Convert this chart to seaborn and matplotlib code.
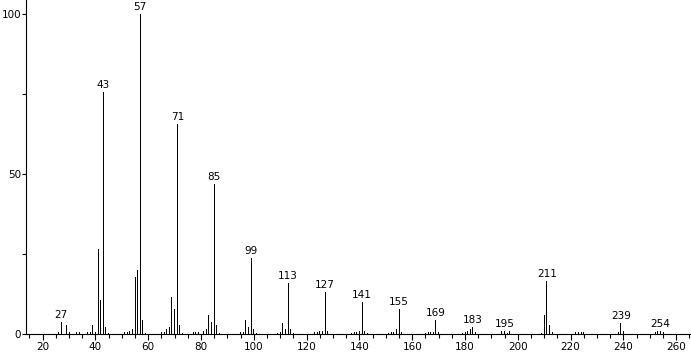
import matplotlib
matplotlib.use("Agg")
import matplotlib.pyplot as plt
from matplotlib.ticker import MultipleLocator
import seaborn as sns
import pandas as pd

mz = [26, 27, 29, 30, 33, 34, 37, 38, 39, 40, 41, 42, 43, 44, 45,
      51, 52, 53, 54, 55, 56, 57, 58, 59,
      65, 66, 67, 68, 69, 70, 71, 72, 73,
      77, 78, 79, 81, 82, 83, 84, 85, 86, 87,
      95, 96, 97, 98, 99, 100, 101,
      109, 110, 111, 112, 113, 114, 115,
      123, 124, 125, 126, 127, 128,
      137, 138, 139, 140, 141, 142, 143,
      151, 152, 153, 154, 155, 156,
      165, 166, 167, 168, 169, 170,
      179, 180, 181, 182, 183, 184,
      194, 195, 196, 197,
      209, 210, 211, 212, 213,
      222, 223, 224, 225,
      238, 239, 240,
      252, 253, 254, 255]
intensity = [0.6, 3.8, 2.9, 0.5, 0.5, 0.5, 0.6, 0.6, 2.9, 0.6, 26.5, 10.7, 75.5, 2.3, 0.4,
             0.5, 0.6, 1.0, 1.7, 17.9, 20.0, 100.0, 4.5, 0.4,
             0.5, 0.5, 1.7, 2.3, 11.7, 7.9, 65.5, 2.9, 0.4,
             0.5, 0.5, 0.5, 0.8, 1.7, 6.0, 3.9, 47.0, 2.9, 0.4,
             0.6, 0.6, 4.5, 2.3, 23.6, 1.7, 0.4,
             0.4, 0.5, 3.5, 1.7, 15.8, 1.7, 0.4,
             0.5, 0.5, 0.8, 0.9, 13.1, 0.9,
             0.4, 0.5, 0.6, 0.8, 10.0, 0.8, 0.4,
             0.4, 0.5, 0.7, 1.5, 7.7, 0.6,
             0.4, 0.5, 0.6, 0.7, 4.4, 0.5,
             0.4, 0.5, 0.9, 1.7, 2.3, 0.5,
             0.8, 1.0, 0.4, 1.0,
             0.4, 6.0, 16.6, 2.9, 0.5,
             0.6, 0.7, 0.7, 0.5,
             0.5, 3.3, 0.8,
             0.6, 0.8, 0.9, 0.6]
labeled_mz = [27, 43, 57, 71, 85, 99, 113, 127, 141, 155, 169, 183, 195, 211, 239, 254]

x_ticks = [20, 40, 60, 80, 100, 120, 140, 160, 180, 200, 220, 240, 260]
y_ticks = [0, 50, 100]

df = pd.DataFrame({"mz": mz, "intensity": intensity})

sns.set_theme(style="white")
plt.rcParams["font.family"] = ["DejaVu Sans"]

fig = plt.figure(figsize=(6.91, 3.53), dpi=100)
ax = fig.add_axes([26 / 691, (353 - 334) / 353, 1 - 26 / 691, 334 / 353])

sns.barplot(data=df, x="mz", y="intensity", native_scale=True, width=0.38,
            color="black", saturation=1, linewidth=0, ax=ax)

lookup = dict(zip(mz, intensity))
for m in labeled_mz:
    ax.annotate(str(m), xy=(m, lookup[m]), xytext=(0, 1.5), textcoords="offset points",
                ha="center", va="bottom", fontsize=7.5, color="black")

ax.set_xlim(13.7, 265.6)
ax.set_ylim(0, 104.4)
ax.set_xticks(x_ticks)
ax.set_xticklabels([str(t) for t in x_ticks])
ax.set_yticks(y_ticks)
ax.set_yticklabels([str(t) for t in y_ticks])
ax.xaxis.set_minor_locator(MultipleLocator(5))
ax.yaxis.set_minor_locator(MultipleLocator(25))
ax.tick_params(axis="x", which="major", direction="out", length=4, width=0.8,
               labelsize=7.5, colors="black", pad=2)
ax.tick_params(axis="y", which="major", direction="out", length=3, width=0.8,
               labelsize=7.5, colors="black", pad=0.5)
ax.tick_params(axis="both", which="minor", direction="out", length=3, width=0.8, colors="black")
ax.tick_params(axis="x", which="both", bottom=True)
ax.tick_params(axis="y", which="both", left=True)
ax.set_xlabel("")
ax.set_ylabel("")
for s in ["top", "right"]:
    ax.spines[s].set_visible(False)
for s in ["left", "bottom"]:
    ax.spines[s].set_color("black")
    ax.spines[s].set_linewidth(0.8)
ax.grid(False)

fig.savefig("out.png", dpi=100)
